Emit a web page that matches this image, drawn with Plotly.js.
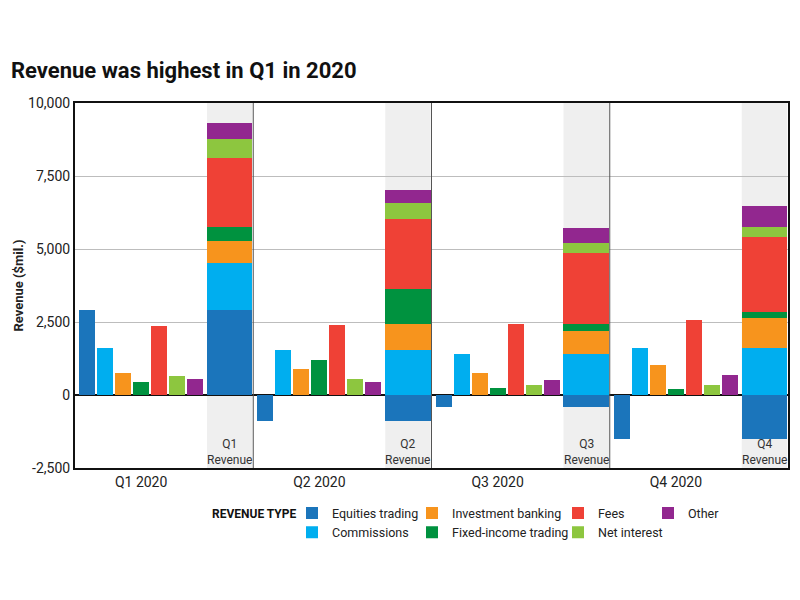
<!DOCTYPE html>
<html>
<head>
<meta charset="utf-8">
<script src="https://cdn.plot.ly/plotly-3.0.1.min.js"></script>
<style>html,body{margin:0;padding:0;background:#fff}#chart{width:800px;height:600px}</style>
</head>
<body>
<div id="chart"></div>
<script>
var quarters = ["Q1 2020", "Q2 2020", "Q3 2020", "Q4 2020"];
var stackLabels = ["Q1<br>Revenue", "Q2<br>Revenue", "Q3<br>Revenue", "Q4<br>Revenue"];
var seriesNames = ["Equities trading", "Commissions", "Investment banking", "Fixed-income trading", "Fees", "Net interest", "Other"];
var seriesColors = ["#1b75bb", "#00aeef", "#f7941d", "#00923f", "#ef4136", "#8dc63f", "#92278f"];

var equities   = [2900, -880, -400, -1500];
var commissions= [1620, 1550, 1410, 1600];
var invBanking = [770, 880, 770, 1040];
var fixedIncome= [450, 1190, 240, 190];
var fees       = [2380, 2410, 2440, 2580];
var netInterest= [640, 545, 350, 350];
var other      = [540, 450, 520, 700];
var seriesValues = [equities, commissions, invBanking, fixedIncome, fees, netInterest, other];

var yTickVals = [-2500, 0, 2500, 5000, 7500, 10000];
var yTickText = ["-2,500", "0", "2,500", "5,000", "7,500", "10,000"];

var FONT = "Roboto, 'Noto Sans', sans-serif";
var GW = 10, BAR0 = 0.68, PITCH = 1.01, BW = 0.9, SC = 8.68, SW = 2.55;

var traces = [];
var legendOf = ["legend", "legend", "legend2", "legend2", "legend3", "legend3", "legend4"];
seriesValues.forEach(function (vals, k) {
  var xs = [], ys = [], ws = [];
  vals.forEach(function (v, g) { xs.push(g * GW + BAR0 + k * PITCH); ys.push(v); ws.push(BW); });
  vals.forEach(function (v, g) { xs.push(g * GW + SC); ys.push(v); ws.push(SW); });
  traces.push({
    type: "bar", name: seriesNames[k], x: xs, y: ys, width: ws,
    marker: { color: seriesColors[k], line: { width: 0 } },
    legend: legendOf[k], hoverinfo: "name+y"
  });
});

var shapes = [];
var annotations = [];
quarters.forEach(function (q, g) {
  shapes.push({ type: "rect", xref: "x", yref: "paper", x0: g * GW + SC - SW / 2, x1: g * GW + SC + SW / 2, y0: 0, y1: 1,
    fillcolor: "#efefef", line: { width: 0 }, layer: "between" });
  if (g > 0) shapes.push({ type: "line", xref: "x", yref: "paper", x0: g * GW, x1: g * GW, y0: 0, y1: 1,
    line: { color: "#555", width: 1 }, layer: "above" });
  annotations.push({ xref: "x", yref: "paper", x: g * GW + SC, y: -0.004, yanchor: "bottom", text: stackLabels[g],
    showarrow: false, font: { family: FONT, size: 12, color: "#333" } });
});
annotations.push({ xref: "paper", yref: "paper", x: -0.093, y: 1.05, xanchor: "left", yanchor: "bottom",
  text: "<b>Revenue was highest in Q1 in 2020</b>", showarrow: false, font: { family: FONT, size: 22, color: "#111" } });
annotations.push({ xref: "paper", yref: "paper", x: 0.19, y: -0.126, xanchor: "left", yanchor: "middle",
  text: "<b>REVENUE TYPE</b>", showarrow: false, font: { family: FONT, size: 12, color: "#111" } });

var tickX = quarters.map(function (q, g) { return g * GW + BAR0 + 3 * PITCH; });
function leg(px) { return { x: (px - 75) / 713, y: -0.083, xanchor: "left", yanchor: "top", orientation: "v",
  bgcolor: "rgba(0,0,0,0)", font: { family: FONT, size: 12.5, color: "#222" }, itemwidth: 30, tracegroupgap: 0 }; }

var layout = {
  width: 800, height: 600,
  margin: { l: 75, r: 12, t: 103, b: 132 },
  paper_bgcolor: "#fff", plot_bgcolor: "#fff",
  barmode: "relative", bargap: 0,
  font: { family: FONT, size: 13, color: "#222" },
  xaxis: { range: [0, 40], tickvals: tickX, ticktext: quarters, showgrid: false, zeroline: false,
    showline: true, mirror: true, linecolor: "#111", linewidth: 2, ticks: "", tickfont: { size: 14 }, fixedrange: true },
  yaxis: { range: [-2500, 10000], tickvals: yTickVals, ticktext: yTickText, showgrid: true, gridcolor: "#bdbdbd", gridwidth: 1,
    zeroline: true, zerolinecolor: "#111", zerolinewidth: 2, showline: true, mirror: true, linecolor: "#111", linewidth: 2,
    ticks: "", tickfont: { size: 14 },
    title: { text: "<b>Revenue ($mil.)</b>", font: { size: 13 }, standoff: 2 } },
  showlegend: true,
  legend: leg(292), legend2: leg(412), legend3: leg(558), legend4: leg(648),
  shapes: shapes, annotations: annotations
};
Plotly.newPlot("chart", traces, layout, { displayModeBar: false, staticPlot: true });
</script>
</body>
</html>
